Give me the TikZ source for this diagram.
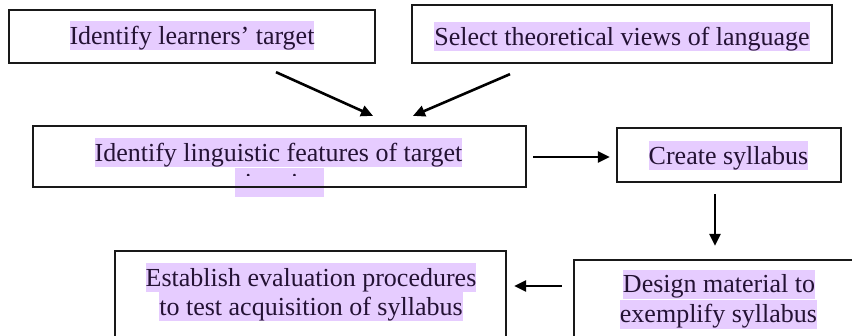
\documentclass[tikz,border=0pt]{standalone}
\usepackage{fontspec}
\setmainfont{Liberation Serif}
\usetikzlibrary{arrows.meta,calc}
\definecolor{hl}{RGB}{230,204,255}
\definecolor{ink}{RGB}{36,18,52}
\definecolor{edge}{RGB}{25,25,25}
\tikzset{
  box/.style={draw=edge,line width=2.3pt,inner sep=0pt},
  hltext/.style={fill=hl,text=ink,inner xsep=0pt,inner ysep=0pt,text height=23pt,text depth=6pt,font=\fontsize{26}{30}\selectfont},
  conn/.style={line width=2.6pt,draw=black,-{Triangle[length=12pt,width=11pt]}}
}
\begin{document}
\begin{tikzpicture}[x=1pt,y=-1pt]
\useasboundingbox (0,0) rectangle (852,335);
\clip (0,0) rectangle (852,335);
% highlight of clipped second line
\node[hltext,text=hl] (t3b) at (279.5,182.5) {situation};
\begin{scope}
\clip (200,160) rectangle (360,175);
\node[hltext,fill=none] (t3bt) at (279.5,182.5) {situation};
\end{scope}
% boxes
\node[box,minimum width=366pt,minimum height=53pt] (b1) at (192,36.5) {};
\node[box,minimum width=420pt,minimum height=58pt] (b2) at (622,34) {};
\node[box,minimum width=493pt,minimum height=61pt] (b3) at (279.5,156.5) {};
\node[box,minimum width=224pt,minimum height=54pt] (b4) at (729,155) {};
\node[box,minimum width=288pt,minimum height=90pt] (b5) at (718,305) {};
\node[box,minimum width=391pt,minimum height=99pt] (b6) at (310.5,300.5) {};
% texts
\node[hltext] (t1) at (192,35.5) {Identify learners’ target};
\node[hltext] (t2) at (622,36.5) {Select theoretical views of language};
\node[hltext] (t3) at (278.5,152.5) {Identify linguistic features of target};
\node[hltext] (t4) at (728.5,155.5) {Create syllabus};
\node[hltext] (t5a) at (719,284) {Design material to};
\node[hltext] (t5b) at (718.5,314) {exemplify syllabus};
\node[hltext] (t6a) at (311,277.5) {Establish evaluation procedures};
\node[hltext] (t6b) at (311,306.5) {to test acquisition of syllabus};
% connectors
\draw[conn] ($(b1.south)+(84,8)$) -- ($(b3.north)+(93.5,-9)$);
\draw[conn] ($(b2.south)+(-112,10)$) -- ($(b3.north)+(133.5,-9)$);
\draw[conn] ($(b3.east)+(6,0.5)$) -- ($(b4.west)+(-6,2)$);
\draw[conn] ($(b4.south)+(-14,11)$) -- ($(b5.north)+(-3,-13)$);
\draw[conn] ($(b5.west)+(-11,-19)$) -- ($(b6.east)+(7,-14.5)$);
\end{tikzpicture}
\end{document}
